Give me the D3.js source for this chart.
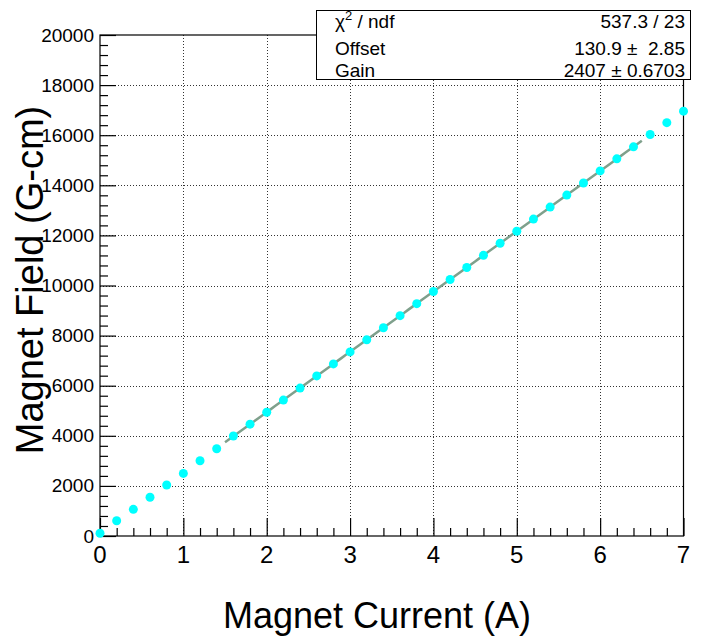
<!DOCTYPE html>
<html>
<head>
<meta charset="utf-8">
<script src="https://cdn.jsdelivr.net/npm/d3@7"></script>
<style>
  body { margin: 0; background: #fff; }
  svg { display: block; font-family: "Liberation Sans", Arial, Helvetica, sans-serif; }
</style>
</head>
<body>
<svg id="chart" width="705" height="636"></svg>
<script>
// --- Data ---
const current = [0, 0.2, 0.4, 0.6, 0.8, 1.0, 1.2, 1.4, 1.6, 1.8, 2.0, 2.2, 2.4, 2.6,
  2.8, 3.0, 3.2, 3.4, 3.6, 3.8, 4.0, 4.2, 4.4, 4.6, 4.8, 5.0, 5.2, 5.4, 5.6, 5.8,
  6.0, 6.2, 6.4, 6.6, 6.8, 7.0];
const field = [110, 610, 1065, 1545, 2035, 2500, 3005, 3485, 3990, 4465, 4940, 5425,
  5905, 6390, 6870, 7350, 7830, 8315, 8795, 9275, 9760, 10240, 10720, 11205, 11685,
  12165, 12650, 13130, 13610, 14090, 14575, 15055, 15535, 16030, 16500, 16960];

const fitOffset = 130.9;
const fitGain = 2407;
const fitRange = [1.5, 6.5];

const statsLabels = ["χ2 / ndf", "Offset", "Gain"];
const statsValues = ["537.3 / 23", "130.9 \u00b1  2.85", "2407 \u00b1 0.6703"];

const xTicks = [0, 1, 2, 3, 4, 5, 6, 7];
const yTicks = [0, 2000, 4000, 6000, 8000, 10000, 12000, 14000, 16000, 18000, 20000];

// --- Layout ---
const svg = d3.select("#chart");
const padL = 100, padR = 683.5, padT = 35, padB = 536;

const x = d3.scaleLinear().domain([0, 7]).range([padL, padR]);
const y = d3.scaleLinear().domain([0, 20000]).range([padB, padT]);

// --- Grid ---
const grid = svg.append("g")
  .attr("stroke", "#333")
  .attr("stroke-width", 1)
  .attr("stroke-dasharray", "1,2");
grid.selectAll(".gx")
  .data(xTicks.slice(1, -1))
  .join("line")
  .attr("x1", (d) => Math.round(x(d)) + 0.5)
  .attr("x2", (d) => Math.round(x(d)) + 0.5)
  .attr("y1", padT)
  .attr("y2", padB);
grid.selectAll(".gy")
  .data(yTicks.slice(1, -1))
  .join("line")
  .attr("x1", padL)
  .attr("x2", padR)
  .attr("y1", (d) => Math.round(y(d)) + 0.5)
  .attr("y2", (d) => Math.round(y(d)) + 0.5);

// --- Frame ---
svg.append("rect")
  .attr("x", padL)
  .attr("y", padT)
  .attr("width", padR - padL)
  .attr("height", padB - padT)
  .attr("fill", "none")
  .attr("stroke", "#000")
  .attr("stroke-width", 1.2);

// --- Axes (ticks point inward, like ROOT) ---
const xAxis = d3.axisBottom(x)
  .tickValues(d3.range(0, 7.001, 0.2))
  .tickSize(-8)
  .tickFormat("");
svg.append("g")
  .attr("transform", `translate(0,${padB})`)
  .call(xAxis)
  .call((g) => g.select(".domain").remove())
  .call((g) => g.selectAll(".tick line")
    .attr("y2", (d) => (Math.abs(d - Math.round(d)) < 1e-6 ? -18 : -8)));

const yAxis = d3.axisLeft(y)
  .tickValues(d3.range(0, 20001, 400))
  .tickSize(-8)
  .tickFormat("");
svg.append("g")
  .attr("transform", `translate(${padL},0)`)
  .call(yAxis)
  .call((g) => g.select(".domain").remove())
  .call((g) => g.selectAll(".tick line")
    .attr("x2", (d) => (d % 2000 === 0 ? 16 : 8)));

svg.selectAll(".tick line").attr("stroke", "#000").attr("stroke-width", 1.2);

// tick labels
svg.append("g")
  .selectAll("text")
  .data(xTicks)
  .join("text")
  .attr("x", (d) => x(d))
  .attr("y", 563)
  .attr("text-anchor", "middle")
  .attr("font-size", 24)
  .text((d) => d);

svg.append("g")
  .selectAll("text")
  .data(yTicks)
  .join("text")
  .attr("x", 94)
  .attr("y", (d) => y(d) + 6.5)
  .attr("text-anchor", "end")
  .attr("font-size", 19)
  .text((d) => d);

// axis titles
svg.append("text")
  .attr("x", 377)
  .attr("y", 628)
  .attr("text-anchor", "middle")
  .attr("font-size", 36)
  .text("Magnet Current (A)");

svg.append("text")
  .attr("transform", "translate(43,280) rotate(-90)")
  .attr("text-anchor", "middle")
  .attr("font-size", 38)
  .text("Magnet Field (G-cm)");

// --- Fit line ---
const fitX = d3.range(fitRange[0], fitRange[1] + 1e-9, 0.05);
svg.append("path")
  .datum(fitX)
  .attr("fill", "none")
  .attr("stroke", "#7fa08c")
  .attr("stroke-width", 2.5)
  .attr("d", d3.line().x((d) => x(d)).y((d) => y(fitOffset + fitGain * d)));

// --- Points ---
svg.append("g")
  .selectAll("circle")
  .data(current.map((c, i) => ({ c, f: field[i] })))
  .join("circle")
  .attr("cx", (d) => x(d.c))
  .attr("cy", (d) => y(d.f))
  .attr("r", 4.5)
  .attr("fill", "#00ffff");

// --- Stats box ---
const box = svg.append("g");
box.append("rect")
  .attr("x", 316.5)
  .attr("y", 10.5)
  .attr("width", 374)
  .attr("height", 69)
  .attr("fill", "#fff")
  .attr("stroke", "#000")
  .attr("stroke-width", 1);

const rowY = [28, 55, 77];
statsLabels.forEach((lab, i) => {
  const t = box.append("text")
    .attr("x", 335)
    .attr("y", rowY[i])
    .attr("font-size", 19);
  if (i === 0) {
    t.append("tspan").text("χ");
    t.append("tspan").attr("dy", -8).attr("font-size", 13).text("2");
    t.append("tspan").attr("dy", 8).text(" / ndf");
  } else {
    t.text(lab);
  }
  box.append("text")
    .attr("x", 685)
    .attr("y", rowY[i])
    .attr("text-anchor", "end")
    .attr("font-size", 19)
    .style("white-space", "pre")
    .text(statsValues[i]);
});
</script>
</body>
</html>
